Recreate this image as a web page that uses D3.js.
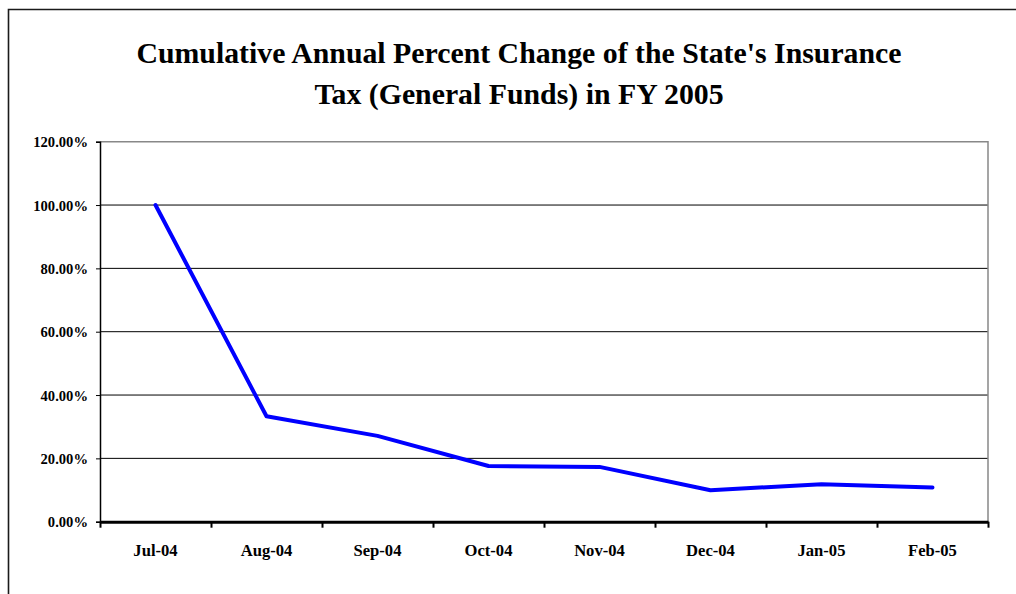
<!DOCTYPE html>
<html>
<head>
<meta charset="utf-8">
<script src="https://cdn.jsdelivr.net/npm/d3@7"></script>
<style>
  html, body { margin: 0; padding: 0; background: #fff; }
  svg { display: block; }
  text { font-family: "Liberation Serif", "Times New Roman", serif; font-weight: bold; fill: #000; }
</style>
</head>
<body>
<svg id="chart" width="1016" height="594"></svg>
<script>
// Months of fiscal year 2005 and the cumulative annual percent change (as fractions)
const months = ["Jul-04", "Aug-04", "Sep-04", "Oct-04", "Nov-04", "Dec-04", "Jan-05", "Feb-05"];
const pctChange = [1.000, 0.333, 0.271, 0.176, 0.173, 0.0995, 0.118, 0.108];
const yTicks = [0, 0.2, 0.4, 0.6, 0.8, 1.0, 1.2];
const titleLines = ["Cumulative Annual Percent Change of the State's Insurance",
                    "Tax (General Funds) in FY 2005"];

const serif = "'Liberation Serif', 'Times New Roman', serif";
const svg = d3.select("#chart");
const plot = { left: 100, right: 988, top: 141.7, bottom: 521.7 };

// Outer chart frame (only its top and left edges fall inside the page)
svg.append("path")
  .attr("d", "M8.5,620 L8.5,9.5 L1030,9.5")
  .attr("fill", "none")
  .attr("stroke", "#1a1a1a")
  .attr("stroke-width", 1.6);

// Title
svg.append("g").selectAll("text")
  .data(titleLines)
  .join("text")
  .attr("x", 519)
  .attr("y", (d, i) => 62.5 + i * 41)
  .attr("text-anchor", "middle")
  .style("font-family", serif)
  .style("font-weight", "bold")
  .style("font-size", "29.8px")
  .text(d => d);

// Scales
const x = d3.scaleLinear().domain([0, months.length]).range([plot.left, plot.right]);
const y = d3.scaleLinear().domain([0, 1.2]).range([plot.bottom, plot.top]);

// Horizontal gridlines
svg.append("g").selectAll("line")
  .data(yTicks.filter(v => v > 0 && v < 1.2))
  .join("line")
  .attr("x1", plot.left).attr("x2", plot.right)
  .attr("y1", d => y(d)).attr("y2", d => y(d))
  .attr("stroke", "#000").attr("stroke-width", 1);

// Plot area border (top and right in grey)
svg.append("path")
  .attr("d", `M${plot.left},${plot.top} L${plot.right},${plot.top} L${plot.right},${plot.bottom}`)
  .attr("fill", "none")
  .attr("stroke", "#888")
  .attr("stroke-width", 1.5);

// Y axis
const yAxis = svg.append("g")
  .attr("transform", `translate(${plot.left},0)`)
  .call(d3.axisLeft(y).tickValues(yTicks).tickFormat(d3.format(".2%")).tickSize(4).tickPadding(8));
yAxis.select(".domain").attr("stroke", "#000").attr("stroke-width", 1.5);
yAxis.selectAll(".tick line").attr("stroke", "#000").attr("stroke-width", 1);
yAxis.selectAll(".tick text")
  .attr("dy", "0.36em")
  .style("font-size", "14.6px")
  .style("font-family", serif)
  .style("font-weight", "bold");

// X axis: tick marks on category boundaries
const xAxis = svg.append("g")
  .attr("transform", `translate(0,${plot.bottom})`)
  .call(d3.axisBottom(x).tickValues(d3.range(months.length + 1)).tickFormat("").tickSize(6).tickSizeOuter(0));
xAxis.select(".domain").attr("stroke", "#000").attr("stroke-width", 3);
xAxis.selectAll(".tick line").attr("stroke", "#000").attr("stroke-width", 2);

// Category labels centred in each slot
svg.append("g").selectAll("text")
  .data(months)
  .join("text")
  .attr("x", (d, i) => x(i + 0.5))
  .attr("y", 556)
  .attr("text-anchor", "middle")
  .style("font-family", serif)
  .style("font-weight", "bold")
  .style("font-size", "16.6px")
  .text(d => d);

// Data line
const line = d3.line()
  .x((d, i) => x(i + 0.5))
  .y(d => y(d));
svg.append("path")
  .datum(pctChange)
  .attr("d", line)
  .attr("fill", "none")
  .attr("stroke", "#0000ff")
  .attr("stroke-width", 4)
  .attr("stroke-linejoin", "round")
  .attr("stroke-linecap", "round");
</script>
</body>
</html>
